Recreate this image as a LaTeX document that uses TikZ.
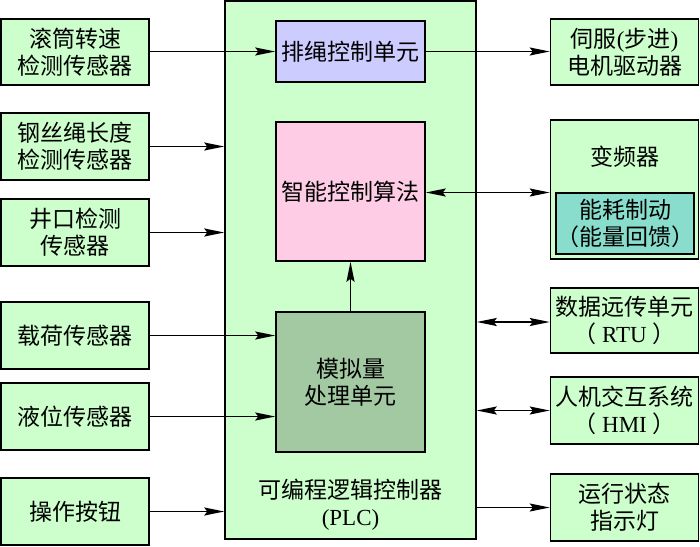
\documentclass[tikz,border=0pt]{standalone}
\usepackage{fontspec}
\setmainfont{Liberation Serif}
\newfontfamily\cjk{Noto Sans CJK SC}
\usetikzlibrary{arrows.meta}
\definecolor{lgreen}{HTML}{CCFFCC}
\definecolor{dgreen}{HTML}{A3C9A3}
\definecolor{lav}{HTML}{CCCCFF}
\definecolor{lpink}{HTML}{FFCCE6}
\definecolor{teal1}{HTML}{88DDCC}
\begin{document}
\begin{tikzpicture}[x=1pt,y=-1pt,
  box/.style={draw, line width=1.5pt, fill=lgreen, align=center, inner sep=0pt,
    font=\fontsize{23}{27}\selectfont\cjk},
  conn/.style={line width=1.6pt, -{Stealth[length=20pt,width=8pt,inset=3pt]}},
  biconn/.style={line width=1.6pt, {Stealth[length=20pt,width=8pt,inset=3pt]}-{Stealth[length=20pt,width=8pt,inset=3pt]}}]
\useasboundingbox (0,0) rectangle (700,546);
% PLC
\node[box, minimum width=251pt, minimum height=538pt] (plc) at (350.5,270) {};
\node[font=\fontsize{23}{27}\selectfont, align=center] (plclab) at (350.5,505) {{\cjk 可编程逻辑控制器}\\(PLC)};
% inner units
\node[box, fill=lav, minimum width=149pt, minimum height=61pt] (pair) at (350.5,51.5) {排绳控制单元};
\node[box, fill=lpink, minimum width=149pt, minimum height=139pt] (intel) at (350.5,191.5) {智能控制算法};
\node[box, fill=dgreen, minimum width=149pt, minimum height=140pt] (ana) at (350.5,382) {模拟量\\处理单元};
% left boxes
\node[box, minimum width=148pt, minimum height=66pt] (l1) at (75,52) {滚筒转速\\检测传感器};
\node[box, minimum width=148pt, minimum height=67pt] (l2) at (75,146.5) {钢丝绳长度\\检测传感器};
\node[box, minimum width=148pt, minimum height=67pt] (l3) at (75,232.5) {井口检测\\传感器};
\node[box, minimum width=148pt, minimum height=67pt] (l4) at (75,335.5) {载荷传感器};
\node[box, minimum width=148pt, minimum height=67pt] (l5) at (75,416.5) {液位传感器};
\node[box, minimum width=148pt, minimum height=67pt] (l6) at (75,511.5) {操作按钮};
% right boxes
\node[box, minimum width=148pt, minimum height=66pt] (r1) at (624.5,52) {伺服{\rmfamily(}步进{\rmfamily)}\\电机驱动器};
\node[box, minimum width=148pt, minimum height=139pt] (r2) at (624.5,189.5) {};
\node[font=\fontsize{23}{27}\selectfont\cjk] (r2lab) at (624.5,157) {变频器};
\node[box, fill=teal1, minimum width=128pt, minimum height=61pt] (r2in) at (625,223.5) {能耗制动\\（能量回馈）};
\node[box, minimum width=148pt, minimum height=65pt] (r3) at (624.5,320.5) {数据远传单元\\（{\rmfamily\ RTU\ }）};
\node[box, minimum width=148pt, minimum height=67pt] (r4) at (624.5,410.5) {人机交互系统\\（{\rmfamily\ HMI\ }）};
\node[box, minimum width=148pt, minimum height=67pt] (r5) at (624.5,507.5) {运行状态\\指示灯};
% connectors
\draw[conn] (l1.east |- pair.west) -- (pair.west);
\draw[conn] (l2.east) -- (l2.east -| plc.west);
\draw[conn] (l3.east) -- (l3.east -| plc.west);
\draw[conn] (l4.east) -- (l4.east -| ana.west);
\draw[conn] (l5.east) -- (l5.east -| ana.west);
\draw[conn] (l6.east) -- (l6.east -| plc.west);
\draw[conn] (pair.east) -- (pair.east -| r1.west);
\draw[biconn] ([yshift=-1pt]intel.east) -- ([yshift=-1pt]intel.east -| r2.west);
\draw[biconn] ([yshift=-1.5pt]r3.west -| plc.east) -- ([yshift=-1.5pt]r3.west);
\draw[biconn] (r4.west -| plc.east) -- (r4.west);
\draw[conn] (r5.west -| plc.east) -- (r5.west);
\draw[conn] (ana.north) -- (intel.south);
\end{tikzpicture}
\end{document}
